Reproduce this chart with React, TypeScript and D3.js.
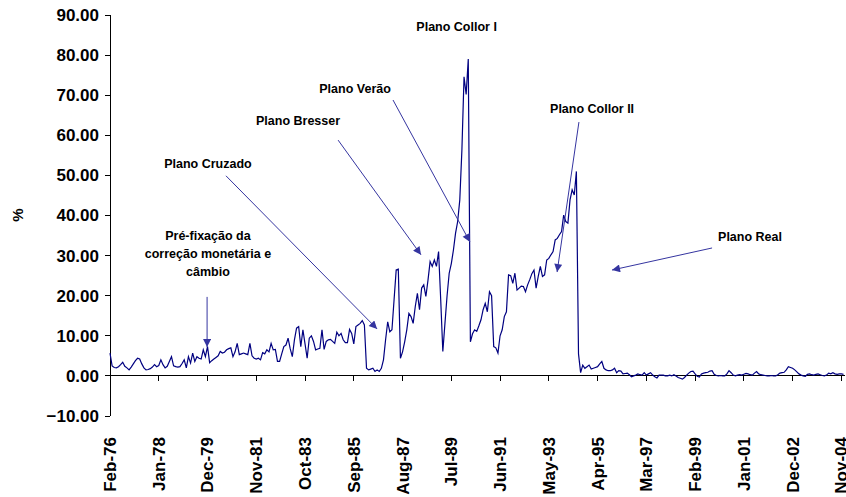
import React from "react";
import * as d3 from "d3";

// Monthly inflation (%), Feb-76 .. Dec-04 (one value per month)
const inflation: number[] = [
  5.7, 2.5, 2.1, 2.0, 2.3, 2.8, 3.4, 2.4, 2.0, 1.5,
  2.2, 3.0, 3.8, 4.4, 4.2, 3.0, 2.0, 1.5, 1.6, 1.8,
  2.2, 2.8, 2.3, 2.6, 4.0, 2.8, 2.0, 2.4, 3.6, 4.8,
  2.5, 2.3, 2.2, 2.3, 3.1, 4.0, 2.0, 4.8, 3.2, 5.7,
  3.6, 4.8, 4.4, 4.2, 6.5, 4.8, 7.3, 3.3, 3.8, 4.2,
  4.6, 5.0, 6.1, 5.7, 5.9, 6.5, 6.8, 7.0, 4.8, 6.0,
  8.1, 5.3, 5.5, 5.7, 5.5, 5.3, 8.1, 5.0, 4.4, 4.2,
  4.4, 4.0, 5.8, 5.5, 6.5, 6.0, 8.1, 6.5, 6.6, 3.6,
  3.6, 5.5, 7.3, 7.7, 9.4, 6.8, 4.8, 9.0, 11.9, 12.3,
  7.3, 11.5, 8.0, 4.4, 9.4, 10.0, 8.6, 6.5, 6.7, 6.9,
  11.5, 6.6, 8.6, 9.0, 9.1, 8.6, 8.1, 10.9, 10.0, 10.6,
  9.0, 8.3, 8.3, 11.6, 10.6, 8.0, 12.3, 12.7, 13.1, 13.8,
  12.7, 1.9, 1.5, 1.7, 1.9, 1.1, 1.5, 1.1, 1.9, 4.0,
  9.0, 13.5, 11.0, 11.5, 19.0, 26.4, 26.6, 4.4, 6.0, 8.5,
  11.5, 15.6, 14.8, 13.1, 17.3, 20.6, 16.5, 21.9, 22.7, 19.8,
  23.9, 28.5, 27.3, 28.9, 27.3, 31.0, 19.0, 6.1, 13.1, 20.0,
  25.6, 28.0, 31.4, 35.6, 38.5, 43.9, 56.4, 74.6, 70.2, 79.0,
  8.5, 10.5, 11.5, 11.1, 12.5, 14.0, 16.5, 18.1, 16.0, 21.0,
  20.0, 7.3, 7.0, 5.7, 10.0, 11.5, 14.8, 16.0, 25.2, 25.0,
  23.1, 25.6, 21.4, 21.9, 22.4, 22.3, 21.0, 22.7, 24.0, 25.5,
  26.4, 21.9, 24.8, 27.3, 24.8, 25.2, 28.9, 29.3, 30.2, 31.0,
  33.9, 34.3, 35.2, 36.0, 40.1, 38.5, 38.1, 43.9, 46.4, 45.1,
  51.0, 5.5, 0.8, 2.7, 1.9, 2.3, 2.7, 1.7, 1.9, 2.1,
  2.3, 3.0, 3.6, 1.9, 1.5, 1.3, 1.3, 1.5, 1.9, 0.8,
  1.3, 1.2, 0.5, 0.6, 0.7, 0.3, -0.2, 0.0, 0.2, 0.5,
  0.3, 0.2, 0.8, 0.2, 0.5, 0.8, 0.2, -0.2, -0.5, 0.2,
  0.2, 0.2, 0.0, 0.0, 0.2, 0.0, 0.3, 0.0, -0.4, -0.6,
  -0.8, -0.4, 0.2, 0.7, 1.1, 1.2, 0.5, -0.1, -0.3, 0.5,
  0.7, 0.8, 0.9, 1.2, 1.3, 0.4, 0.1, 0.0, 0.1, 0.0,
  0.0, 0.5, 1.3, 0.8, 0.2, 0.0, 0.2, 0.3, 0.2, 0.4,
  0.6, 0.5, 0.3, 0.2, 0.7, 1.1, 0.5, 0.3, 0.2, 0.1,
  0.0, 0.0, 0.1, 0.0, 0.0, 0.3, 0.7, 0.8, 0.9, 1.5,
  2.3, 2.1, 1.9, 1.5, 1.0, 0.5, 0.2, 0.0, -0.1, 0.4,
  0.5, 0.3, 0.2, 0.4, 0.5, 0.3, 0.1, 0.0, 0.2, 0.7,
  0.5, 0.8, 0.5, 0.4, 0.5, 0.5, 0.4,
];

const xTickLabels: string[] = [
  "Feb-76", "Jan-78", "Dec-79", "Nov-81", "Oct-83", "Sep-85", "Aug-87", "Jul-89",
  "Jun-91", "May-93", "Apr-95", "Mar-97", "Feb-99", "Jan-01", "Dec-02", "Nov-04",
];
const monthsPerTick = 23;
const yTicks: number[] = [-10, 0, 10, 20, 30, 40, 50, 60, 70, 80, 90];
const yTitle = "%";

// Annotation labels (text lines) and arrows, in data space (month index, %)
const annotationLabels: { lines: string[]; at: [number, number] }[] = [
  { lines: ["Plano Collor I"], at: [163.5, 86.0] },
  { lines: ["Plano Verão"], at: [115.6, 70.5] },
  { lines: ["Plano Bresser"], at: [88.7, 62.6] },
  { lines: ["Plano Collor II"], at: [227.4, 65.6] },
  { lines: ["Plano Cruzado"], at: [46.2, 51.8] },
  { lines: ["Pré-fixação da", "correção monetária e", "câmbio"], at: [46.2, 33.9] },
  { lines: ["Plano Real"], at: [301.9, 33.6] },
];
const annotationArrows: { from: [number, number]; to: [number, number] }[] = [
  { from: [45.8, 19.7], to: [45.8, 7.2] },
  { from: [54.7, 49.9], to: [126.0, 11.7] },
  { from: [107.6, 58.8], to: [146.7, 30.2] },
  { from: [133.5, 68.8], to: [169.8, 33.4] },
  { from: [221.2, 63.3], to: [210.9, 25.9] },
  { from: [284.0, 31.9], to: [236.8, 26.4] },
];

const FONT = "'Liberation Sans', Arial, sans-serif";

export default function App() {
  const W = 846;
  const H = 497;
  const x = d3.scaleLinear().domain([0, inflation.length - 1]).range([110, 843.5]);
  const y = d3.scaleLinear().domain([-10, 90]).range([416, 15]);
  const line = d3
    .line<number>()
    .x((_, i) => x(i))
    .y((d) => y(d));
  const fmt = d3.format(".2f");
  const arrowColor = "#3535a0";
  const lineColor = "#000080";
  const y0 = y(0);

  return (
    <svg
      width={W}
      height={H}
      style={{ position: "absolute", left: 0, top: 0, background: "#fff" }}
      fontFamily={FONT}
    >
      <defs>
        <marker
          id="ah"
          viewBox="0 0 10 10"
          refX={10}
          refY={5}
          markerWidth={10}
          markerHeight={8}
          markerUnits="userSpaceOnUse"
          orient="auto"
        >
          <path d="M0,0 L10,5 L0,10 z" fill={arrowColor} />
        </marker>
      </defs>

      {/* Y axis */}
      <g shapeRendering="crispEdges">
        <line x1={110} x2={110} y1={y(90)} y2={y(-10)} stroke="#000" />
        {yTicks.map((t) => (
          <line key={t} x1={105} x2={110} y1={y(t)} y2={y(t)} stroke="#000" />
        ))}
        {/* X axis at zero */}
        <line x1={110} x2={845} y1={y0} y2={y0} stroke="#000" />
        {xTickLabels.map((_, k) => (
          <line
            key={k}
            x1={x(k * monthsPerTick)}
            x2={x(k * monthsPerTick)}
            y1={y0}
            y2={y0 + 5}
            stroke="#000"
          />
        ))}
      </g>
      {yTicks.map((t) => (
        <text
          key={t}
          x={99}
          y={y(t)}
          dy="0.35em"
          textAnchor="end"
          fontSize={17}
          fontWeight="bold"
        >
          {fmt(t)}
        </text>
      ))}
      {xTickLabels.map((lab, k) => (
        <text
          key={lab}
          transform={`translate(${x(k * monthsPerTick)},437) rotate(-90)`}
          dy="0.35em"
          textAnchor="end"
          fontSize={17}
          fontWeight="bold"
        >
          {lab}
        </text>
      ))}
      <text
        transform="translate(18,215) rotate(-90)"
        dy="0.35em"
        textAnchor="middle"
        fontSize={15}
        fontWeight="bold"
      >
        {yTitle}
      </text>

      {/* Series */}
      <path d={line(inflation) ?? ""} fill="none" stroke={lineColor} strokeWidth={1.2} />

      {/* Annotations */}
      {annotationArrows.map((a, i) => (
        <line
          key={i}
          x1={x(a.from[0])}
          y1={y(a.from[1])}
          x2={x(a.to[0])}
          y2={y(a.to[1])}
          stroke={arrowColor}
          strokeWidth={1}
          markerEnd="url(#ah)"
        />
      ))}
      {annotationLabels.map((a, i) => (
        <text key={i} x={x(a.at[0])} y={y(a.at[1])} textAnchor="middle" fontSize={12.5} fontWeight="bold">
          {a.lines.map((l, j) => (
            <tspan key={j} x={x(a.at[0])} dy={j === 0 ? 0 : 18}>
              {l}
            </tspan>
          ))}
        </text>
      ))}
    </svg>
  );
}
